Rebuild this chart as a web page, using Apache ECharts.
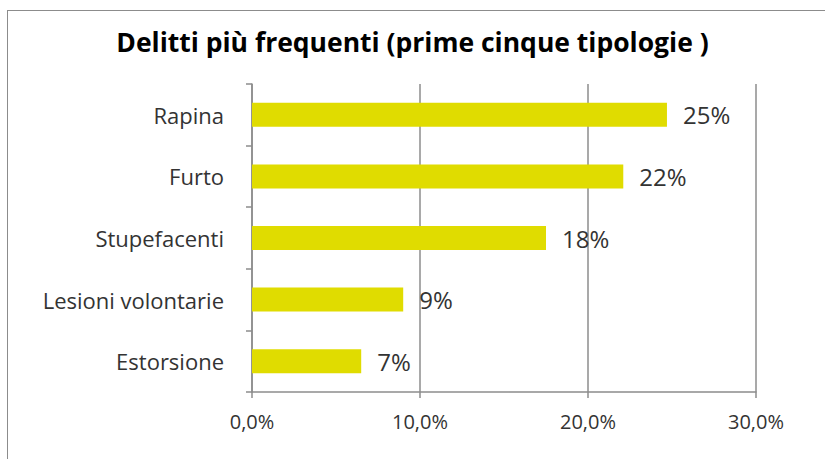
<!DOCTYPE html>
<html>
<head>
<meta charset="utf-8">
<script src="https://cdn.jsdelivr.net/npm/echarts@6/dist/echarts.min.js"></script>
<style>
  html, body { margin: 0; padding: 0; background: #fff; }
  #frame { position: absolute; left: 7px; top: 10px; width: 840px; height: 470px; border: 1.5px solid #8c8c8c; box-sizing: border-box; }
  #chart { position: absolute; left: 0; top: 0; width: 825px; height: 459px; }
</style>
</head>
<body>
<div id="frame"></div>
<div id="chart"></div>
<script>
(function() {
  var categories = ['Estorsione', 'Lesioni volontarie', 'Stupefacenti', 'Furto', 'Rapina'];
  var shares = [6.5, 9.0, 17.5, 22.1, 24.7];
  var tickLabels = ['0,0%', '10,0%', '20,0%', '30,0%'];

  var ink = '#333333';
  var rule = '#8c8c8c';
  var barColor = '#e0dc00';

  var chart = echarts.init(document.getElementById('chart'), null, { renderer: 'svg' });

  chart.setOption({
    animation: false,
    title: {
      text: 'Delitti più frequenti (prime cinque tipologie )',
      left: 'center',
      top: 23,
      textStyle: { color: '#000', fontSize: 26.5, fontWeight: 'bold', fontFamily: 'Open Sans' }
    },
    grid: { left: 252, right: 69, top: 84, bottom: 67 },
    xAxis: {
      type: 'value',
      min: 0,
      max: 30,
      interval: 10,
      axisLine: { show: true, lineStyle: { color: rule, width: 1.5 } },
      axisTick: { show: true, length: 6, lineStyle: { color: rule, width: 1.5 } },
      splitLine: { show: true, lineStyle: { color: rule, width: 1.5 } },
      axisLabel: {
        color: ink,
        fontSize: 20,
        fontFamily: 'Open Sans',
        margin: 19,
        formatter: function(v) { return tickLabels[v / 10]; }
      }
    },
    yAxis: {
      type: 'category',
      data: categories,
      axisLine: { show: true, lineStyle: { color: rule, width: 1.5 } },
      axisTick: { show: true, length: 6, lineStyle: { color: rule, width: 1.5 } },
      axisLabel: { color: ink, fontSize: 22, fontFamily: 'Open Sans', margin: 28 }
    },
    series: [{
      type: 'bar',
      data: shares,
      barWidth: 24,
      itemStyle: { color: barColor },
      label: {
        show: true,
        position: 'right',
        distance: 16,
        color: ink,
        fontSize: 24,
        fontFamily: 'Open Sans',
        formatter: function(p) { return Math.round(p.value) + '%'; }
      }
    }]
  });
})();
</script>
</body>
</html>
